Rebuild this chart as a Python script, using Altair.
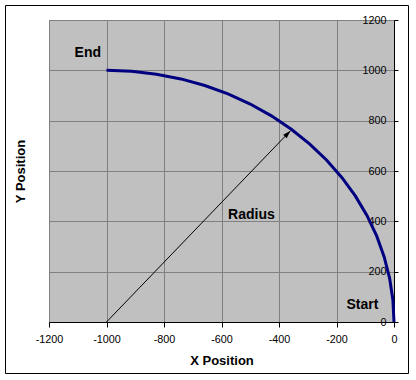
import altair as alt
import pandas as pd

# ---- data ----
arc_x = [0.0, -3.8, -15.2, -34.1, -60.3, -93.7, -134.0, -180.9, -234.0, -292.9,
         -357.2, -426.4, -500.0, -577.4, -658.0, -741.2, -826.4, -912.8, -1000.0]
arc_y = [0.0, 87.2, 173.6, 258.8, 342.0, 422.6, 500.0, 573.6, 642.8, 707.1,
         766.0, 819.2, 866.0, 906.3, 939.7, 965.9, 984.8, 996.2, 1000.0]

arrow_x = [-1000, -360]
arrow_y = [0, 760]

label_text = ["End", "Radius", "Start"]
label_x = [-1065, -496, -110]
label_y = [1070, 424, 66]

x_ticks = [-1200, -1000, -800, -600, -400, -200, 0]
y_ticks = [0, 200, 400, 600, 800, 1000, 1200]

# ---- tables ----
arc_df = pd.DataFrame({"x": arc_x, "y": arc_y, "i": list(range(len(arc_x)))})
arrow_df = pd.DataFrame({"x": arrow_x, "y": arrow_y, "i": [0, 1]})
head_df = pd.DataFrame({"x": [arrow_x[-1]], "y": [arrow_y[-1]]})
label_df = pd.DataFrame({"text": label_text, "x": label_x, "y": label_y})
frame_df = pd.DataFrame({"a": [0]})

FONT = "Liberation Sans"
GRID = "#808080"

x_scale = alt.Scale(domain=[-1200, 0], nice=False, zero=False)
y_scale = alt.Scale(domain=[0, 1200], nice=False, zero=False)

x_axis = alt.Axis(
    values=x_ticks, title="X Position", labelExpr="toString(datum.value)",
    grid=True, gridColor=GRID, gridWidth=1, gridOpacity=1,
    domain=True, domainColor="black", domainWidth=1,
    ticks=True, tickColor="black", tickSize=5, tickWidth=1,
    labelFont=FONT, labelFontSize=10.8, labelColor="black", labelPadding=6,
    labelFlush=False, labelOverlap=False,
    titleFont=FONT, titleFontSize=13, titleFontWeight="bold", titleColor="black",
    titleY=38, titleBaseline="middle",
)

y_axis_right = alt.Axis(
    orient="right", values=y_ticks, title=None, labelExpr="toString(datum.value)",
    grid=True, gridColor=GRID, gridWidth=1, gridOpacity=1,
    domain=True, domainColor="black", domainWidth=1,
    ticks=True, tickColor="black", tickSize=4, tickWidth=1,
    labelFont=FONT, labelFontSize=10.8, labelColor="black",
    labelAlign="right", labelPadding=-12, labelFlush=False, labelOverlap=False,
)

y_axis_left = alt.Axis(
    orient="left", title="Y Position", labels=False, ticks=False, domain=False, grid=False,
    titleFont=FONT, titleFontSize=13, titleFontWeight="bold", titleColor="black",
    titleX=-29, titleY=151, titleAngle=270, titleAlign="center", titleBaseline="middle",
)

arc = alt.Chart(arc_df).mark_line(color="#000080", strokeWidth=3).encode(
    x=alt.X("x:Q", scale=x_scale, axis=x_axis),
    y=alt.Y("y:Q", scale=y_scale, axis=y_axis_right),
    order=alt.Order("i:Q"),
)

arrow = alt.Chart(arrow_df).mark_line(color="black", strokeWidth=1).encode(
    x=alt.X("x:Q", scale=x_scale, axis=x_axis),
    y=alt.Y("y:Q", scale=y_scale, axis=y_axis_left),
    order=alt.Order("i:Q"),
)

head = alt.Chart(head_df).mark_point(
    shape="M0,0 L0.6,2 L-0.6,2 Z", size=64, angle=44, filled=True,
    color="black", opacity=1, strokeWidth=0,
).encode(
    x=alt.X("x:Q", scale=x_scale, axis=x_axis),
    y=alt.Y("y:Q", scale=y_scale, axis=None),
)

labels = alt.Chart(label_df).mark_text(
    font=FONT, fontSize=14, fontWeight="bold", color="black",
    align="center", baseline="middle",
).encode(
    x=alt.X("x:Q", scale=x_scale, axis=x_axis),
    y=alt.Y("y:Q", scale=y_scale, axis=None),
    text="text:N",
)

frame = alt.Chart(frame_df).mark_rect(
    fill=None, stroke="black", strokeWidth=1, clip=False,
).encode(
    x=alt.value(-43.5), x2=alt.value(359.5), y=alt.value(-14.5), y2=alt.value(353.5),
)

chart = alt.layer(arc, arrow, head, labels, frame).resolve_axis(
    y="independent"
).properties(
    width=345, height=302,
    autosize=alt.AutoSizeParams(type="none"),
    padding={"left": 49, "top": 20, "right": 22, "bottom": 58},
    background="white",
).configure_view(
    fill="#C0C0C0", stroke=None,
)

chart.save("out.html", embed_options={"renderer": "svg", "actions": False})
